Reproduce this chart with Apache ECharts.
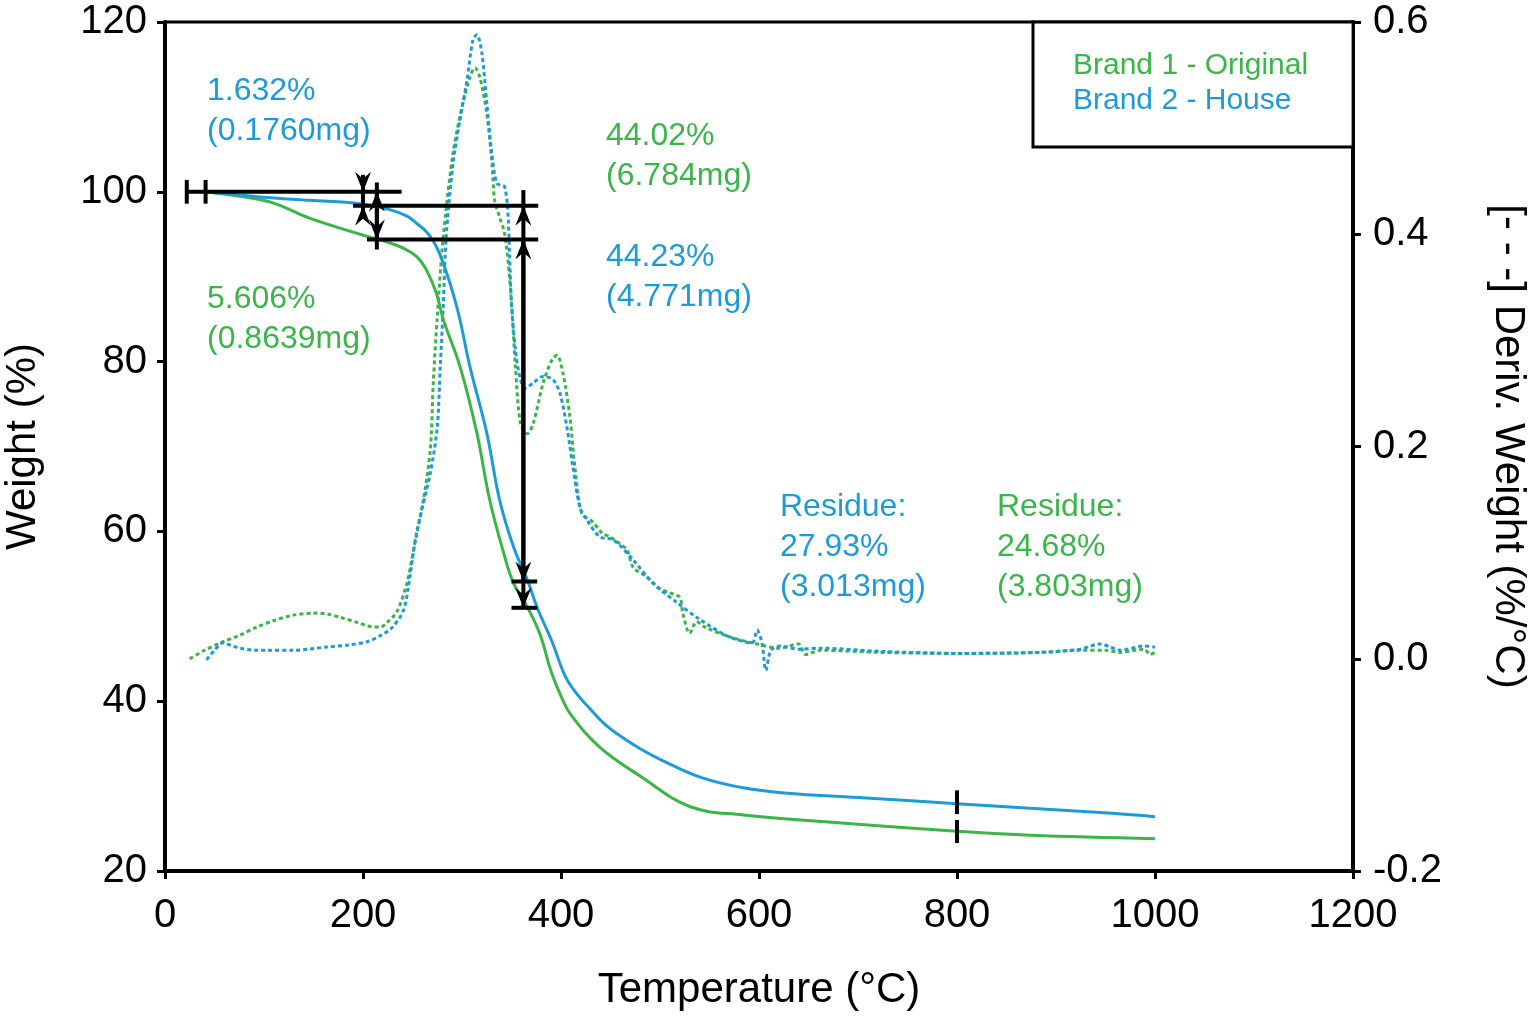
<!DOCTYPE html>
<html>
<head>
<meta charset="utf-8">
<script src="https://cdn.jsdelivr.net/npm/echarts@6/dist/echarts.min.js"></script>
<style>html,body{margin:0;padding:0;background:#fff}#chart{width:1529px;height:1016px}</style>
</head>
<body>
<div id="chart"></div>
<script>
const FONT = 'Liberation Sans';
const GREEN = '#3BB54A';
const BLUE = '#1E9BD7';
const brand1Name = 'Brand 1 - Original';
const brand2Name = 'Brand 2 - House';

// Weight (%) vs temperature (°C)
const brand1WeightT = [40, 79, 109, 146, 197, 224, 240, 254, 264, 274, 281, 298, 315, 328, 342, 352, 366, 379, 390, 400, 410, 439, 481, 530, 584, 667, 800, 874, 1000];
const brand1Weight  = [100.0, 99.4, 98.7, 96.9, 95.0, 94.1, 93.4, 92.4, 90.8, 88.1, 85.0, 79.4, 71.6, 63.7, 57.5, 53.9, 51.1, 47.8, 43.5, 40.6, 38.4, 34.6, 31.1, 27.6, 26.6, 25.8, 24.68, 24.2, 23.8];

const brand2WeightT = [40, 96, 146, 197, 227, 245, 254, 264, 271, 277, 284, 291, 298, 308, 325, 338, 352, 366, 376, 391, 404, 415, 427, 445, 460, 480, 501, 542, 584, 625, 708, 800, 874, 957, 1000];
const brand2Weight  = [100.0, 99.4, 99.0, 98.6, 97.9, 97.1, 96.3, 95.3, 94.2, 92.8, 90.6, 88.0, 84.9, 79.4, 71.6, 63.7, 58.2, 54.3, 51.0, 47.0, 43.0, 41.0, 39.4, 37.2, 35.9, 34.4, 33.1, 31.0, 29.8, 29.2, 28.6, 27.93, 27.4, 26.8, 26.4];

// Derivative weight (%/°C) vs temperature (°C)
const brand1DerivT = [25, 40, 56, 75, 93, 110, 129, 150, 165, 177, 195, 210, 218, 224, 234, 244, 251, 261, 268, 271, 275, 281, 291, 301, 308, 313, 318, 325, 330, 333, 338, 343, 348, 351, 354, 359, 366, 372, 382, 391, 396, 402, 409, 414, 421, 432, 442, 449, 460, 467, 473, 487, 500, 510, 520, 523, 530, 537, 545, 569, 593, 621, 640, 647, 662, 722, 803, 884, 924, 950, 965, 989, 995, 1000];
const brand1Deriv  = [0.000, 0.008, 0.015, 0.022, 0.030, 0.036, 0.041, 0.043, 0.042, 0.039, 0.034, 0.030, 0.030, 0.034, 0.044, 0.070, 0.102, 0.150, 0.197, 0.260, 0.322, 0.397, 0.477, 0.524, 0.548, 0.557, 0.548, 0.514, 0.470, 0.432, 0.416, 0.401, 0.360, 0.320, 0.275, 0.222, 0.212, 0.222, 0.260, 0.282, 0.286, 0.269, 0.228, 0.181, 0.137, 0.129, 0.118, 0.115, 0.108, 0.102, 0.086, 0.077, 0.066, 0.062, 0.058, 0.043, 0.024, 0.035, 0.030, 0.021, 0.015, 0.010, 0.014, 0.004, 0.008, 0.006, 0.005, 0.006, 0.008, 0.008, 0.006, 0.009, 0.004, 0.006];

const brand2DerivT = [42, 50, 59, 68, 76, 90, 103, 129, 163, 185, 204, 218, 230, 241, 247, 254, 268, 275, 278, 281, 284, 291, 298, 305, 311, 315, 320, 325, 330, 335, 340, 343, 346, 348, 350, 354, 359, 364, 372, 382, 392, 399, 406, 412, 419, 426, 439, 453, 473, 493, 517, 537, 569, 593, 598, 603, 607, 612, 621, 640, 662, 722, 803, 884, 924, 945, 955, 965, 989, 1000];
const brand2Deriv  = [-0.001, 0.008, 0.015, 0.012, 0.010, 0.008, 0.008, 0.008, 0.011, 0.013, 0.016, 0.022, 0.030, 0.046, 0.075, 0.118, 0.175, 0.218, 0.275, 0.331, 0.397, 0.467, 0.508, 0.545, 0.583, 0.588, 0.571, 0.524, 0.477, 0.448, 0.446, 0.445, 0.426, 0.382, 0.335, 0.291, 0.263, 0.255, 0.260, 0.266, 0.263, 0.250, 0.218, 0.181, 0.143, 0.131, 0.115, 0.112, 0.093, 0.071, 0.053, 0.039, 0.021, 0.015, 0.027, 0.015, -0.011, 0.008, 0.012, 0.009, 0.010, 0.007, 0.005, 0.006, 0.009, 0.014, 0.011, 0.008, 0.012, 0.011];

// Step-analysis markers: [T1, W1, T2, W2, arrowAtStart, arrowAtEnd]
const stepSegments = [
  [22, 100, 239, 100, 0, 0],
  [22, 101.4, 22, 98.6, 0, 0],
  [41, 101.4, 41, 98.6, 0, 0],
  [190, 98.37, 377, 98.37, 0, 0],
  [200, 102.0, 200, 100.0, 0, 1],
  [200, 100.0, 200, 98.37, 0, 0],
  [200, 96.9, 200, 98.37, 0, 1],
  [204, 94.39, 377, 94.39, 0, 0],
  [214, 101.1, 214, 93.2, 0, 0],
  [214, 100.0, 214, 94.39, 1, 1],
  [362, 100.2, 362, 98.37, 0, 0],
  [362, 98.37, 362, 54.1, 1, 1],
  [362, 94.39, 362, 51.0, 1, 1],
  [350, 54.1, 376, 54.1, 0, 0],
  [350, 51.0, 376, 51.0, 0, 0],
  [800, 29.5, 800, 26.7, 0, 0],
  [800, 26.0, 800, 23.3, 0, 0]
];

// Annotation texts
const annoTexts = ['1.632%\n(0.1760mg)', '5.606%\n(0.8639mg)', '44.02%\n(6.784mg)', '44.23%\n(4.771mg)', 'Residue:\n27.93%\n(3.013mg)', 'Residue:\n24.68%\n(3.803mg)'];
const annoColors = [BLUE, GREEN, GREEN, BLUE, BLUE, GREEN];
const annoPos = [[207, 71], [207, 279], [606, 116], [606, 237], [780, 487], [997, 487]];

const zip = (a, b) => a.map((v, i) => [v, b[i]]);

function renderStep(params, api) {
  const p1 = api.coord([api.value(0), api.value(1)]);
  const p2 = api.coord([api.value(2), api.value(3)]);
  const children = [{
    type: 'line',
    shape: {x1: p1[0], y1: p1[1], x2: p2[0], y2: p2[1]},
    style: {stroke: '#000', lineWidth: 4}
  }];
  const head = (tip, from) => {
    const dx = tip[0] - from[0], dy = tip[1] - from[1];
    const len = Math.hypot(dx, dy) || 1;
    const ux = dx / len, uy = dy / len, nx = -uy, ny = ux;
    const L = 20, W = 8, N = 13;
    return {
      type: 'polygon',
      shape: {points: [
        [tip[0], tip[1]],
        [tip[0] - ux * L + nx * W, tip[1] - uy * L + ny * W],
        [tip[0] - ux * N, tip[1] - uy * N],
        [tip[0] - ux * L - nx * W, tip[1] - uy * L - ny * W]
      ]},
      style: {fill: '#000'}
    };
  };
  if (api.value(4)) children.push(head(p1, p2));
  if (api.value(5)) children.push(head(p2, p1));
  return {type: 'group', children};
}

const chart = echarts.init(document.getElementById('chart'));
const axisCommon = {
  axisLine: {show: true, onZero: false, lineStyle: {color: '#000', width: 4}},
  axisTick: {show: true, inside: false, length: 8, lineStyle: {color: '#000', width: 3}},
  splitLine: {show: false},
  axisLabel: {color: '#000', fontSize: 40, fontFamily: FONT, margin: 18},
  nameTextStyle: {color: '#000', fontSize: 42, fontFamily: FONT},
  nameLocation: 'middle'
};

chart.setOption({
  animation: false,
  backgroundColor: '#fff',
  grid: {left: 165, right: 176, top: 22, bottom: 145, containLabel: false, outerBoundsMode: 'none',
         show: true, borderColor: '#000', borderWidth: 3, backgroundColor: 'transparent'},
  legend: {
    orient: 'vertical', left: 1033, top: 22,
    padding: [29, 45, 31, 35], itemGap: 5, itemWidth: 0, itemHeight: 0,
    borderColor: '#000', borderWidth: 3, backgroundColor: '#fff',
    selectedMode: false,
    textStyle: {fontSize: 30, fontFamily: FONT},
    data: [
      {name: brand1Name, icon: 'rect', itemStyle: {opacity: 0}, textStyle: {color: GREEN}},
      {name: brand2Name, icon: 'rect', itemStyle: {opacity: 0}, textStyle: {color: BLUE}}
    ]
  },
  xAxis: Object.assign({}, axisCommon, {
    type: 'value', min: 0, max: 1200, interval: 200,
    name: 'Temperature (°C)', nameGap: 98,
    axisLabel: Object.assign({}, axisCommon.axisLabel, {margin: 25, formatter: v => String(v)})
  }),
  yAxis: [
    Object.assign({}, axisCommon, {
      type: 'value', min: 20, max: 120, interval: 20, position: 'left',
      name: 'Weight (%)', nameGap: 121
    }),
    Object.assign({}, axisCommon, {
      type: 'value', min: -0.2, max: 0.6, interval: 0.2, position: 'right',
      name: '[- - -] Deriv. Weight (%/°C)', nameGap: 134, nameRotate: -90,
      axisLabel: Object.assign({}, axisCommon.axisLabel, {margin: 20, formatter: v => (Math.abs(v) < 1e-9 ? 0 : v).toFixed(1)})
    })
  ],
  series: [
    {name: brand1Name, type: 'line', yAxisIndex: 1, data: zip(brand1DerivT, brand1Deriv), showSymbol: false, smooth: 0.3, z: 2,
     lineStyle: {color: GREEN, width: 3, type: [4, 3]}, itemStyle: {color: GREEN}},
    {name: brand2Name, type: 'line', yAxisIndex: 1, data: zip(brand2DerivT, brand2Deriv), showSymbol: false, smooth: 0.3, z: 2,
     lineStyle: {color: BLUE, width: 3, type: [4, 3]}, itemStyle: {color: BLUE}},
    {name: brand1Name, type: 'line', yAxisIndex: 0, data: zip(brand1WeightT, brand1Weight), showSymbol: false, smooth: 0.4, z: 3,
     lineStyle: {color: GREEN, width: 3}, itemStyle: {color: GREEN}},
    {name: brand2Name, type: 'line', yAxisIndex: 0, data: zip(brand2WeightT, brand2Weight), showSymbol: false, smooth: 0.4, z: 3,
     lineStyle: {color: BLUE, width: 3}, itemStyle: {color: BLUE}},
    {name: 'steps', type: 'custom', yAxisIndex: 0, data: stepSegments, renderItem: renderStep, z: 10,
     encode: {x: [0, 2], y: [1, 3]}, silent: true}
  ],
  graphic: annoTexts.map((t, i) => ({
    type: 'text', left: annoPos[i][0], top: annoPos[i][1], z: 20,
    style: {text: t, fill: annoColors[i], fontSize: 32, fontFamily: FONT, lineHeight: 40}
  }))
});
</script>
</body>
</html>
